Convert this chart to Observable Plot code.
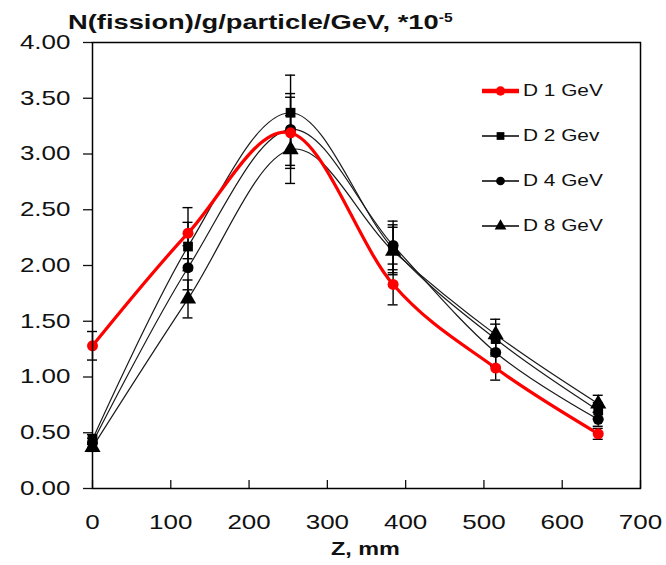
<!DOCTYPE html>
<html>
<head>
<meta charset="utf-8">
<script src="https://cdn.jsdelivr.net/npm/d3@7"></script>
<script src="https://cdn.jsdelivr.net/npm/@observablehq/plot@0.6"></script>
<style>
  body { margin: 0; background: #fff; font-family: "Liberation Sans", Arial, sans-serif; color: #111; }
  #wrap { position: relative; width: 666px; height: 565px; overflow: hidden; }
  #chart { position: absolute; left: 0; top: 0; }
  .stretch { display: inline-block; transform: scaleX(1.3); transform-origin: left center; white-space: nowrap; }
  #title { position: absolute; left: 68px; top: 11px; font-weight: bold; font-size: 21px; line-height: 21px; }
  #title sup { font-size: 12px; vertical-align: 7px; line-height: 0; }
  #xlabel { position: absolute; left: 331px; top: 539px; font-weight: bold; font-size: 18px; line-height: 20px; }
  #legend { position: absolute; left: 482px; top: 0; }
  .row { position: absolute; left: 0; height: 20px; width: 150px; }
  .row svg { position: absolute; left: 0; top: 0; }
  .row .lab { position: absolute; left: 41px; top: 0; font-size: 16px; line-height: 20px; }
</style>
</head>
<body>
<div id="wrap">
  <div id="chart"></div>
  <div id="title"><span class="stretch">N(fission)/g/particle/GeV, *10<sup>-5</sup></span></div>
  <div id="xlabel"><span class="stretch">Z, mm</span></div>
  <div id="legend"></div>
</div>
<script>
// ---- data ----
const zPositions = [0, 122, 253, 384, 515, 646];
const seriesNames = ["D 1 GeV", "D 2 Gev", "D 4 GeV", "D 8 GeV"];
const d1GeV = [1.28, 2.29, 3.19, 1.83, 1.08, 0.49];
const d2GeV = [0.44, 2.17, 3.37, 2.15, 1.34, 0.70];
const d4GeV = [0.41, 1.98, 3.22, 2.18, 1.22, 0.62];
const d8GeV = [0.37, 1.70, 3.04, 2.13, 1.38, 0.76];
const relativeError = 0.10;
const xTicks = [0, 100, 200, 300, 400, 500, 600, 700];
const yTicks = [0, 0.5, 1, 1.5, 2, 2.5, 3, 3.5, 4];
const seriesSymbols = ["circle", "square", "circle", "triangle"];
const seriesColors = ["#ff0000", "#000000", "#000000", "#000000"];

const seriesValues = [d1GeV, d2GeV, d4GeV, d8GeV];
const rows = [];
seriesValues.forEach((vals, s) => vals.forEach((v, i) => rows.push({
  series: seriesNames[s], s, z: zPositions[i], v,
  lo: v * (1 - relativeError), hi: v * (1 + relativeError)
})));

const black = rows.filter(d => d.s > 0);
const red = rows.filter(d => d.s === 0);

const dotMarks = seriesNames.map((name, s) => Plot.dot(rows.filter(d => d.s === s), {
  x: "z", y: "v", symbol: seriesSymbols[s], fill: seriesColors[s], stroke: "none",
  r: s === 3 ? 6 : 5.5
}));

const plot = Plot.plot({
  width: 666,
  height: 565,
  marginLeft: 92,
  marginRight: 26,
  marginTop: 42,
  marginBottom: 77,
  x: { domain: [0, 700] },
  y: { domain: [0, 4] },
  style: { fontFamily: "'Liberation Sans', Arial, sans-serif", fontSize: "20px", color: "#111", background: "white", overflow: "visible" },
  marks: [
    Plot.axisY(yTicks, { tickSize: 9, tickPadding: 13, tickFormat: d => d.toFixed(2), label: null, strokeWidth: 1.3 }),
    Plot.axisX(xTicks, { tickSize: -8, tickPadding: 34, label: null, strokeWidth: 1.3 }),
    Plot.line(black, { x: "z", y: "v", z: "series", curve: "cardinal", stroke: "#1a1a1a", strokeWidth: 1.2 }),
    Plot.line(red, { x: "z", y: "v", curve: "cardinal", stroke: "#ff0000", strokeWidth: 3.2 }),
    Plot.ruleX(rows, { x: "z", y1: "lo", y2: "hi", stroke: "#000", strokeWidth: 1.4 }),
    Plot.ruleY(rows, { y: "hi", x1: "z", x2: "z", insetLeft: -5, insetRight: -5, stroke: "#000", strokeWidth: 1.4 }),
    Plot.ruleY(rows, { y: "lo", x1: "z", x2: "z", insetLeft: -5, insetRight: -5, stroke: "#000", strokeWidth: 1.4 }),
    ...dotMarks.slice(1),
    dotMarks[0],
    Plot.frame({ stroke: "#000", strokeWidth: 1.5 })
  ]
});

// stretch axis label glyphs horizontally to match the reference's wide lettering
plot.querySelectorAll("text").forEach(t => {
  const tr = t.getAttribute("transform") || "";
  t.setAttribute("transform", (tr + " scale(1.3,1)").trim());
});
document.getElementById("chart").appendChild(plot);

// legend (HTML overlay built from the series arrays)
const legend = document.getElementById("legend");
const rowCenters = [90.7, 136, 180.5, 225.7];
seriesNames.forEach((name, s) => {
  const row = document.createElement("div");
  row.className = "row";
  row.style.top = (rowCenters[s] - 10) + "px";
  const sym = { circle: d3.symbolCircle, square: d3.symbolSquare, triangle: d3.symbolTriangle }[seriesSymbols[s]];
  const path = d3.symbol(sym, s === 0 ? 70 : 60)();
  row.innerHTML = `<svg width="38" height="20"><line x1="0" x2="37" y1="10" y2="10" stroke="${seriesColors[s]}" stroke-width="${s === 0 ? 4.5 : 1.5}"/><path d="${path}" transform="translate(18.5,10)" fill="${seriesColors[s]}"/></svg><div class="lab"><span class="stretch">${name}</span></div>`;
  legend.appendChild(row);
});
</script>
</body>
</html>
